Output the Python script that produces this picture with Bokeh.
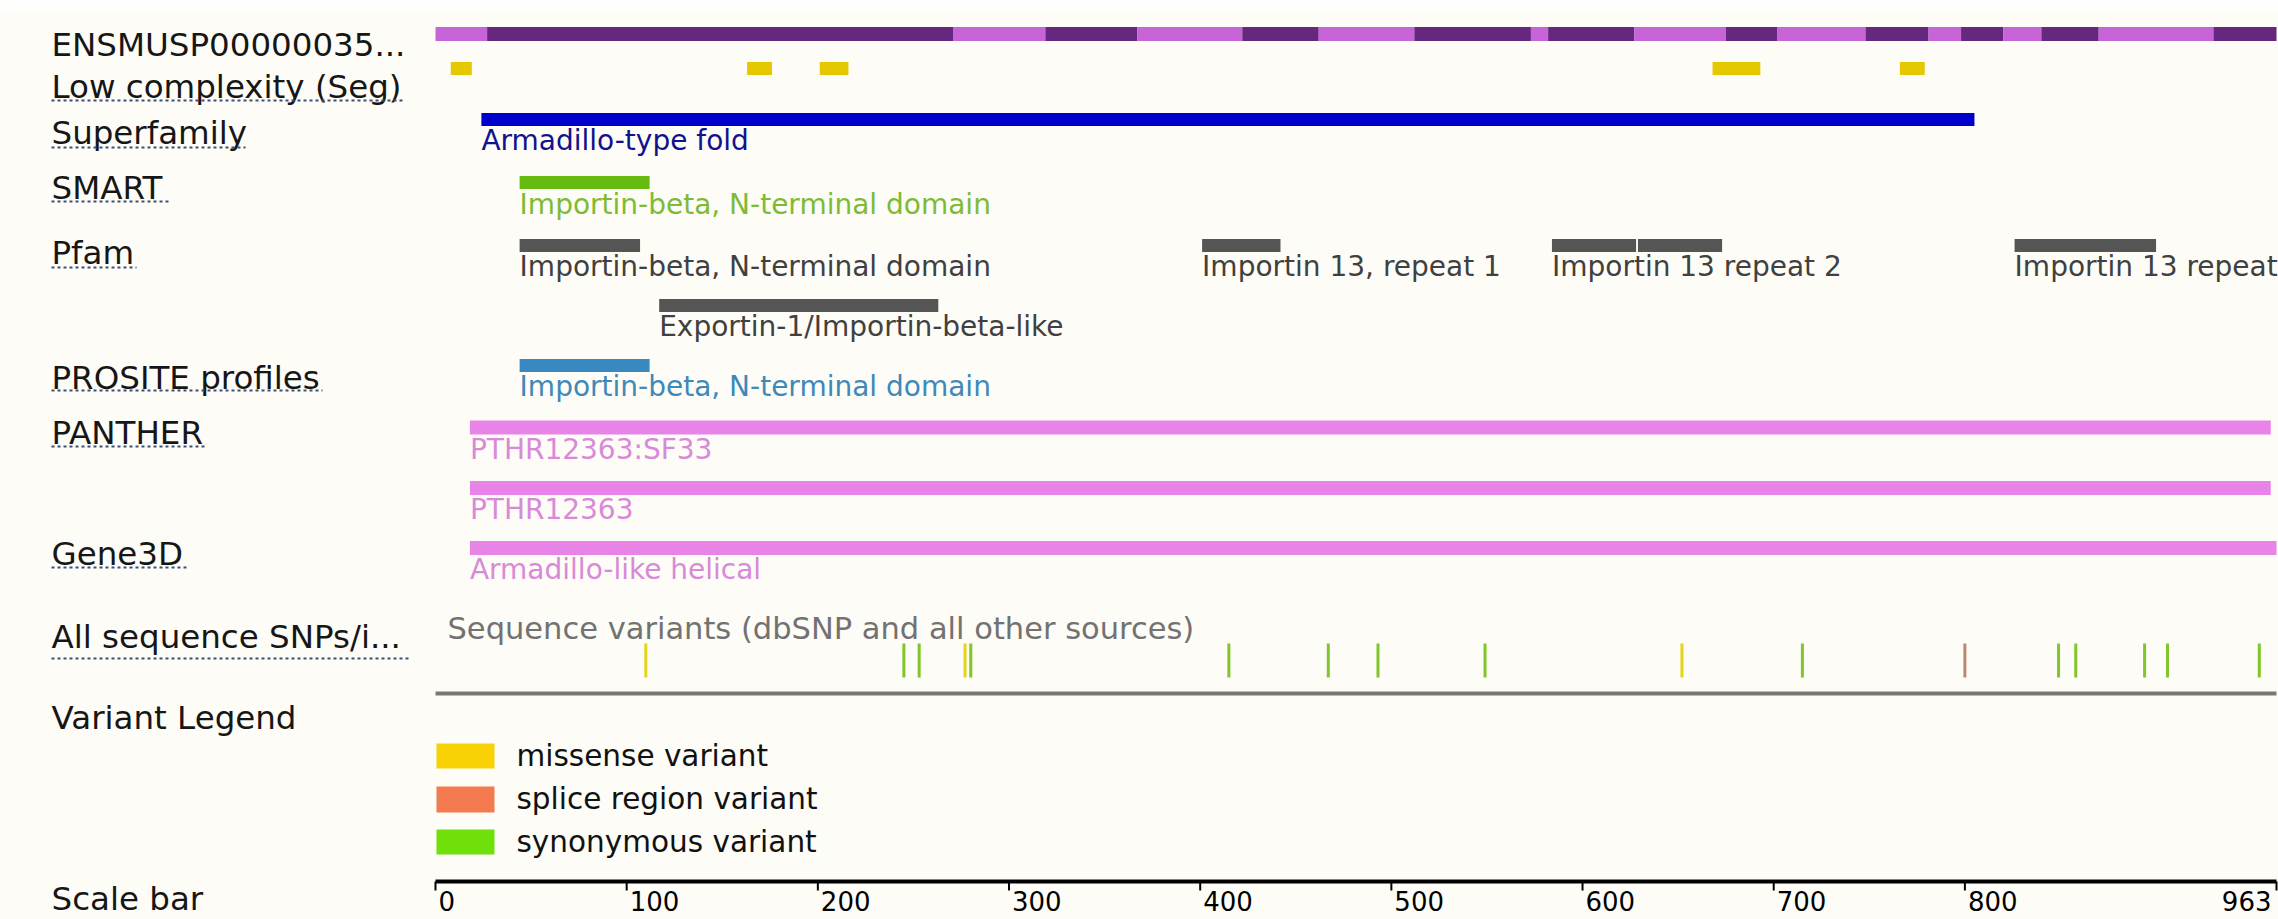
from bokeh.plotting import figure
from bokeh.models import Range1d, ColumnDataSource
from bokeh.core.properties import value
from bokeh.embed import file_html
from bokeh.resources import INLINE

# ---------------- data ----------------
SEQ_LEN = 963
track_names = ["ENSMUSP00000035...", "Low complexity (Seg)", "Superfamily", "SMART", "Pfam",
               "PROSITE profiles", "PANTHER", "Gene3D", "All sequence SNPs/i...",
               "Variant Legend", "Scale bar"]

exon_bounds = [0, 27, 271, 319, 367, 422, 462, 512, 573, 582, 627, 675, 702, 748,
               781, 798, 820, 840, 870, 930, 963]

lowc_start = [8, 163, 201, 668, 766]
lowc_end = [19, 176, 216, 693, 779]

sf_start = [24]
sf_end = [805]
sf_label = ["Armadillo-type fold"]

smart_start = [44]
smart_end = [112]
smart_label = ["Importin-beta, N-terminal domain"]

pfam_start = [44, 401, 584, 629, 826, 117]
pfam_end = [107, 442, 628, 673, 900, 263]
pfam_row = [0, 0, 0, 0, 0, 1]
pfam_label = ["Importin-beta, N-terminal domain", "Importin 13, repeat 1",
              "Importin 13 repeat 2", "", "Importin 13 repeat", "Exportin-1/Importin-beta-like"]

prosite_start = [44]
prosite_end = [112]
prosite_label = ["Importin-beta, N-terminal domain"]

panther_start = [18, 18]
panther_end = [960, 960]
panther_row = [0, 1]
panther_label = ["PTHR12363:SF33", "PTHR12363"]

gene3d_start = [18]
gene3d_end = [963]
gene3d_label = ["Armadillo-like helical"]

variant_pos = [110, 245, 253, 277, 280, 415, 467, 493, 549, 652, 715, 800, 849, 858, 894, 906, 954]
variant_type = ["missense variant", "synonymous variant", "synonymous variant", "missense variant",
                "synonymous variant", "synonymous variant", "synonymous variant", "synonymous variant",
                "synonymous variant", "missense variant", "synonymous variant", "splice region variant",
                "synonymous variant", "synonymous variant", "synonymous variant", "synonymous variant",
                "synonymous variant"]
variant_legend = ["missense variant", "splice region variant", "synonymous variant"]
variants_title = "Sequence variants (dbSNP and all other sources)"

scale_ticks = [0, 100, 200, 300, 400, 500, 600, 700, 800, 963]

# ---------------- layout / style ----------------
W, H = 2278, 919
X0_REF = 435.0
XEND_REF = 2276.0
PXU = (XEND_REF - X0_REF) / SEQ_LEN
FONT = value("DejaVu Sans")
BG = "#fdfcf6"


def dx(xref):
    return (xref - X0_REF) / PXU


def dy(yref):
    return yref


p = figure(width=W, height=H, output_backend="svg", toolbar_location=None,
           x_range=Range1d(dx(0), dx(W)), y_range=Range1d(dy(H), dy(0)),
           x_axis_location=None, y_axis_location=None, min_border=0)
p.min_border_left = p.min_border_right = p.min_border_top = p.min_border_bottom = 0
p.grid.visible = False
p.outline_line_color = None
p.background_fill_color = BG
p.border_fill_color = BG

# white strip above the panel
p.quad(left=[dx(0)], right=[dx(W)], top=[dy(0)], bottom=[dy(11)], fill_color="#ffffff",
       line_color=None)

# ---- left labels
label_y = [44.5, 86.5, 132.5, 187.5, 252.5, 377, 432, 553, 636, 717.5, 898]
p.text(x=[dx(51)] * len(track_names), y=[dy(v) for v in label_y], text=track_names,
       text_font=FONT, text_font_size="32.5px", text_baseline="middle", text_align="left",
       text_color="#161616")
ul_end = {1: 405, 2: 245, 3: 168, 4: 136, 5: 322, 6: 205, 7: 187, 8: 410}
ul_y = {1: 100, 2: 147, 3: 201, 4: 267, 5: 390, 6: 446, 7: 567, 8: 658}
idx = sorted(ul_end)
p.segment(x0=[dx(51)] * len(idx), x1=[dx(ul_end[i]) for i in idx],
          y0=[dy(ul_y[i]) for i in idx], y1=[dy(ul_y[i]) for i in idx],
          line_color="#3b4f75", line_width=2, line_dash="3 3")

# ---- exon track
ex_left = exon_bounds[:-1]
ex_right = exon_bounds[1:]
ex_col = ["#c664d8" if i % 2 == 0 else "#66277f" for i in range(len(ex_left))]
p.hbar(y=dy(33.5), left=ex_left, right=ex_right, height=14, fill_color=ex_col, line_color=None)

# ---- low complexity
p.hbar(y=dy(68), left=lowc_start, right=lowc_end, height=13, fill_color="#e6c800", line_color=None)

TXT_SIZE = "28px"


def feature(starts, ends, labels, ybar, ytxt, bar_col, txt_col, h=13):
    p.hbar(y=[dy(v) for v in ybar], left=starts, right=ends, height=h,
           fill_color=bar_col, line_color=None)
    keep = [i for i, t in enumerate(labels) if t]
    p.text(x=[starts[i] for i in keep], y=[dy(ytxt[i]) for i in keep],
           text=[labels[i] for i in keep], text_font=FONT, text_font_size=TXT_SIZE,
           text_baseline="middle", text_align="left", text_color=txt_col)


feature(sf_start, sf_end, sf_label, [119], [140], "#0000cc", "#12128e")
feature(smart_start, smart_end, smart_label, [182], [204], "#66bb11", "#7dbb35")
pfam_bar_y = [245, 305]
pfam_txt_y = [266, 326]
feature(pfam_start, pfam_end, pfam_label, [pfam_bar_y[r] for r in pfam_row],
        [pfam_txt_y[r] for r in pfam_row], "#555555", "#404040")
feature(prosite_start, prosite_end, prosite_label, [365], [386], "#3a88c0", "#3d89b8")
pan_bar_y = [427, 487.5]
pan_txt_y = [448.5, 508.5]
feature(panther_start, panther_end, panther_label, [pan_bar_y[r] for r in panther_row],
        [pan_txt_y[r] for r in panther_row], "#e884e8", "#d88ad8", h=14)
feature(gene3d_start, gene3d_end, gene3d_label, [547.5], [568.5], "#e884e8", "#d88ad8", h=14)

# ---- variants
line_cols = {"missense variant": "#e4d51c", "splice region variant": "#bd8870",
             "synonymous variant": "#80c62a"}
p.text(x=[dx(447)], y=[dy(628)], text=[variants_title], text_font=FONT,
       text_font_size="30.5px", text_baseline="middle", text_align="left", text_color="#727272")
vsrc = ColumnDataSource(dict(x=variant_pos, c=[line_cols[t] for t in variant_type]))
p.segment(x0="x", x1="x", y0=dy(643), y1=dy(677), line_color="c", line_width=3, source=vsrc)
p.segment(x0=[0], x1=[SEQ_LEN], y0=[dy(693)], y1=[dy(693)], line_color="#787878", line_width=4)

# ---- legend
leg_cols = {"missense variant": "#f8d204", "splice region variant": "#f47b4f",
            "synonymous variant": "#6fe00a"}
leg_top = [743, 786, 829]
leg_bot = [768, 812, 854]
leg_txt = [755, 798, 841]
p.quad(left=[dx(436)] * 3, right=[dx(494)] * 3, top=[dy(v) for v in leg_top],
       bottom=[dy(v) for v in leg_bot], fill_color=[leg_cols[c] for c in variant_legend],
       line_color=None)
p.text(x=[dx(516)] * 3, y=[dy(v) for v in leg_txt], text=variant_legend, text_font=FONT,
       text_font_size="29.5px", text_baseline="middle", text_align="left", text_color="#111111")

# ---- scale bar
p.segment(x0=[0], x1=[SEQ_LEN], y0=[dy(881)], y1=[dy(881)], line_color="#000000", line_width=4)
p.segment(x0=scale_ticks, x1=scale_ticks, y0=dy(881), y1=dy(890), line_color="#000000",
          line_width=2)
p.text(x=scale_ticks[:-1], y=dy(900), text=[str(t) for t in scale_ticks[:-1]], text_font=FONT,
       text_font_size="26px", text_baseline="middle", text_align="left", x_offset=3,
       text_color="#000000")
p.text(x=scale_ticks[-1:], y=dy(900), text=[str(t) for t in scale_ticks[-1:]], text_font=FONT,
       text_font_size="26px", text_baseline="middle", text_align="right", x_offset=-5,
       text_color="#000000")

open("out.html", "w").write(file_html(p, INLINE))
